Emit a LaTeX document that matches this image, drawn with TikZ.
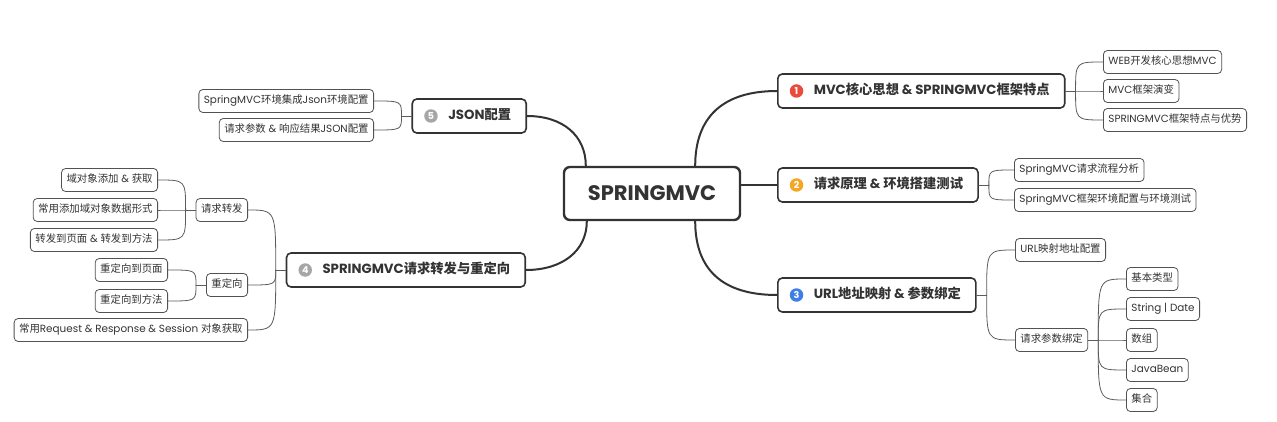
\documentclass[tikz,border=0pt]{standalone}
\usepackage{fontspec}
\setmainfont{Noto Sans CJK SC}
\newfontfamily\en{Poppins}
\newcommand\E[1]{{\en #1}}
\definecolor{ink}{HTML}{333333}
\definecolor{redico}{HTML}{E94B3C}
\definecolor{orangeico}{HTML}{F5A623}
\definecolor{blueico}{HTML}{3D7FE6}
\definecolor{grayico}{HTML}{A6A6A6}
\begin{document}
\begin{tikzpicture}[x=1pt,y=-1pt,line cap=round,line join=round,font=\fontsize{10.4}{12}\selectfont]
\def\j{10}
\tikzset{
  leaf/.style={draw=ink!85,line width=0.8pt,rounded corners=4pt,fill=white,text=ink,inner xsep=5pt,inner ysep=0pt,minimum height=23pt,text height=7.8pt,text depth=1.9pt},
  topic/.style={draw=ink,line width=1.6pt,rounded corners=4.5pt,fill=white,text=ink,inner xsep=15pt,inner ysep=0pt,minimum height=34pt,text height=10pt,text depth=2.4pt,font=\bfseries\fontsize{13.3}{15}\selectfont},
  ico/.style={circle,fill=#1,text=white,inner sep=0pt,minimum size=13.5pt,font=\en\bfseries\fontsize{9.5}{10}\selectfont},
  twig/.style={draw=ink!80,line width=0.8pt},
  limb/.style={draw=ink,line width=2pt}
}
\fill[white] (0,0) rectangle (1277,422);
\useasboundingbox (0,0) rectangle (1277,422);
% centre
\node[draw=ink,line width=2.4pt,rounded corners=6pt,fill=white,minimum width=176pt,minimum height=53pt,text=ink,font=\en\bfseries\fontsize{21}{24}\selectfont] (root) at (652,193.5) {SPRINGMVC};
\coordinate (rtl) at ([xshift=23pt]root.north west);
\coordinate (rtr) at ([xshift=-46pt]root.north east);
\coordinate (rbl) at ([xshift=24pt]root.south west);
\coordinate (rbr) at ([xshift=-46pt]root.south east);
% main topics
\node[topic,anchor=west] (t1) at (777,91) {\hspace{21pt}\E{MVC}核心思想\E{~\&~SPRINGMVC}框架特点};
\node[topic,anchor=west] (t2) at (777,185) {\hspace{21pt}请求原理\E{~\&~}环境搭建测试};
\node[topic,anchor=west] (t3) at (777,295) {\hspace{21pt}\E{URL}地址映射\E{~\&~}参数绑定};
\node[topic,anchor=east] (t4) at (526,270) {\hspace{21pt}\E{SPRINGMVC}请求转发与重定向};
\node[topic,anchor=east] (t5) at (527,116) {\hspace{21pt}\E{JSON}配置};
\foreach \n/\c in {1/redico,2/orangeico,3/blueico,4/grayico,5/grayico}
  \node[ico=\c] (i\n) at ([xshift=19.5pt]t\n.west) {\n};
\draw[limb] (rtr) .. controls +(0,-48) and +(-55,0) .. (t1.west);
\draw[limb] (t2.west) -- (t2.west -| root.east);
\draw[limb] (rbr) .. controls +(0,48) and +(-55,0) .. (t3.west);
\draw[limb] (rbl) .. controls +(0,30) and +(36,0) .. (t4.east);
\draw[limb] (rtl) .. controls +(0,-30) and +(36,0) .. (t5.east);
% 1
\node[leaf,anchor=west] (c11) at (1103,62) {\E{WEB}开发核心思想\E{MVC}};
\node[leaf,anchor=west] (c12) at (1103,91) {\E{MVC}框架演变};
\node[leaf,anchor=west] (c13) at (1103,120) {\E{SPRINGMVC}框架特点与优势};
\draw[twig] (t1.east) -- ++(\j,0) coordinate (j1);
\foreach \n in {c11,c12,c13} \draw[twig] (j1) .. controls (j1 |- \n.west) .. (\n.west);
% 2
\node[leaf,anchor=west] (c21) at (1014,170) {\E{SpringMVC}请求流程分析};
\node[leaf,anchor=west] (c22) at (1014,200) {\E{SpringMVC}框架环境配置与环境测试};
\draw[twig] (t2.east) -- ++(\j,0) coordinate (j2);
\foreach \n in {c21,c22} \draw[twig] (j2) .. controls (j2 |- \n.west) .. (\n.west);
% 3
\node[leaf,anchor=west] (c31) at (1015,250) {\E{URL}映射地址配置};
\node[leaf,anchor=west] (c32) at (1015,340) {请求参数绑定};
\draw[twig] (t3.east) -- ++(\j,0) coordinate (j3);
\foreach \n in {c31,c32} \draw[twig] (j3) .. controls (j3 |- \n.west) .. (\n.west);
\foreach \n/\y/\txt in {1/279/基本类型,2/309/{\E{String | Date}},3/340/数组,4/370/{\E{JavaBean}},5/400/集合}
  \node[leaf,anchor=west] (d\n) at (1126,\y) {\txt};
\draw[twig] (c32.east) -- ++(\j,0) coordinate (j32);
\foreach \n in {1,...,5} \draw[twig] (j32) .. controls (j32 |- d\n.west) .. (d\n.west);
% 5
\node[leaf,anchor=east] (c51) at (374,101) {\E{SpringMVC}环境集成\E{Json}环境配置};
\node[leaf,anchor=east] (c52) at (374,130) {请求参数\E{~\&~}响应结果\E{JSON}配置};
\draw[twig] (t5.west) -- ++(-\j,0) coordinate (j5);
\foreach \n in {c51,c52} \draw[twig] (j5) .. controls (j5 |- \n.east) .. (\n.east);
% 4
\node[leaf,anchor=east] (c41) at (248,210) {请求转发};
\node[leaf,anchor=east] (c42) at (248,285) {重定向};
\node[leaf,anchor=east] (c43) at (248,330) {常用\E{Request \& Response \& Session~}对象获取};
\draw[twig] (t4.west) -- ++(-\j,0) coordinate (j4);
\foreach \n in {c41,c42,c43} \draw[twig] (j4) .. controls (j4 |- \n.east) .. (\n.east);
\node[leaf,anchor=east] (e1) at (158,180) {域对象添加\E{~\&~}获取};
\node[leaf,anchor=east] (e2) at (158,210) {常用添加域对象数据形式};
\node[leaf,anchor=east] (e3) at (158,240) {转发到页面\E{~\&~}转发到方法};
\draw[twig] (c41.west) -- ++(-\j,0) coordinate (j41);
\foreach \n in {e1,e2,e3} \draw[twig] (j41) .. controls (j41 |- \n.east) .. (\n.east);
\node[leaf,anchor=east] (f1) at (168,270) {重定向到页面};
\node[leaf,anchor=east] (f2) at (168,301) {重定向到方法};
\draw[twig] (c42.west) -- ++(-\j,0) coordinate (j42);
\foreach \n in {f1,f2} \draw[twig] (j42) .. controls (j42 |- \n.east) .. (\n.east);
\end{tikzpicture}
\end{document}
